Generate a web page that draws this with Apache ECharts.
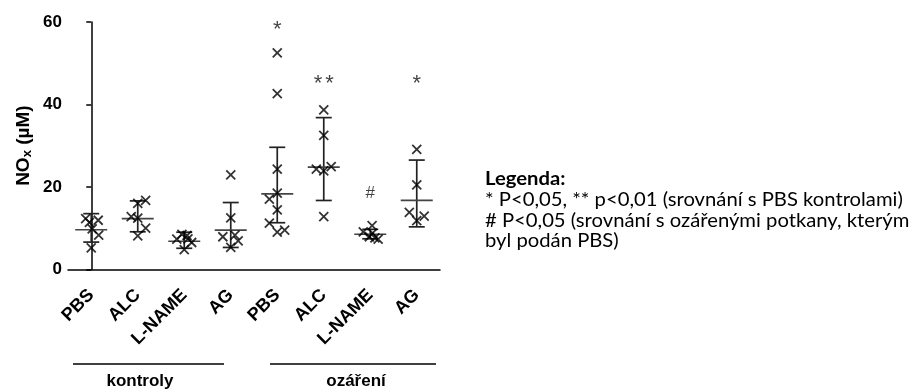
<!DOCTYPE html>
<html><head><meta charset="utf-8">
<script src="https://cdn.jsdelivr.net/npm/echarts@6/dist/echarts.min.js"></script>
<style>html,body{margin:0;padding:0;background:#fff}#c{width:912px;height:389px}</style>
</head><body><div id="c"></div>
<script>
// ---- data ----
const categories = ['PBS', 'ALC', 'L-NAME', 'AG', 'PBS', 'ALC', 'L-NAME', 'AG'];
const yTicks = [0, 20, 40, 60];
// individual measurements (µM) per group
const kontrolyPBS   = [12.3, 11.9, 11.4, 9.8, 8.3, 5.2];
const kontrolyALC   = [16.0, 16.7, 12.8, 12.4, 10.0, 8.1];
const kontrolyLNAME = [7.3, 8.5, 8.2, 7.4, 6.5, 4.8];
const kontrolyAG    = [22.9, 12.5, 7.9, 8.3, 6.9, 5.3];
const ozarPBS       = [52.5, 42.6, 24.3, 18.5, 17.0, 14.4, 11.2, 9.0, 9.5];
const ozarALC       = [38.7, 32.5, 24.3, 23.9, 24.9, 12.8];
const ozarLNAME     = [10.6, 9.1, 8.8, 7.9, 7.6, 7.3];
const ozarAG        = [29.1, 20.5, 13.8, 12.9, 11.8];
// horizontal spread of the points within a group (category units)
const spreadPBS1   = [-0.12, 0.15, -0.04, 0.02, 0.16, 0];
const spreadALC1   = [0, 0.17, -0.14, 0, 0.17, 0];
const spreadLNAME1 = [-0.16, -0.05, 0.06, 0.08, 0.16, 0];
const spreadAG1    = [0, 0, -0.17, 0.09, 0.16, 0];
const spreadPBS2   = [0, 0, 0, 0, -0.17, 0, -0.17, 0, 0.16];
const spreadALC2   = [0, 0, -0.16, 0, 0.16, 0];
const spreadLNAME2 = [0.04, -0.15, 0.05, -0.02, 0.1, 0.17];
const spreadAG2    = [0, 0, -0.16, 0.16, 0];
// central line and whiskers
const centerVal = [9.6, 12.3, 6.8, 9.5, 18.3, 24.8, 8.5, 16.7];
const lowVal    = [6.6, 9.1, 5.1, 5.3, 11.3, 16.7, 7.4, 10.3];
const highVal   = [13.5, 16.6, 9.0, 16.2, 29.6, 36.8, 9.7, 26.5];
// significance marks
const markText = ['', '', '', '', '*', '**', '#', '*'];
const markY    = [null, null, null, null, 58.0, 45.0, 18.5, 45.0];
const groupNames = ['kontroly', 'ozáření'];
const legendTitle = 'Legenda:';
const legendLines = [
  '* P<0,05, ** p<0,01 (srovnání s PBS kontrolami)',
  '# P<0,05 (srovnání s ozářenými potkany, kterým',
  'byl podán PBS)'
];

// ---- build ----
const allValues = [kontrolyPBS, kontrolyALC, kontrolyLNAME, kontrolyAG, ozarPBS, ozarALC, ozarLNAME, ozarAG];
const allSpread = [spreadPBS1, spreadALC1, spreadLNAME1, spreadAG1, spreadPBS2, spreadALC2, spreadLNAME2, spreadAG2];
const pointData = [];
allValues.forEach((arr, g) => arr.forEach((v, k) => pointData.push([g + allSpread[g][k], v])));
const barData = categories.map((c, i) => [i, centerVal[i], lowVal[i], highVal[i]]);
const markData = [];
markText.forEach((t, i) => { if (t) markData.push({ value: [i, markY[i]], name: t }); });

const chart = echarts.init(document.getElementById('c'), null, { renderer: 'canvas' });
const black = '#000';
const boldFont = 'Liberation Sans, Arial, sans-serif';
const legendFont = 'Lato, sans-serif';

function markFormatter(p) {
  if (p.name === '#') return '{h|#}';
  return p.name.split('').map(s => '{s|' + s + '}').join('{g| }');
}

function legendText(txt, y, bold) {
  return { type: 'text', x: 485, y: y, scaleX: 1.065,
    style: { text: txt, verticalAlign: 'middle', font: (bold ? 'bold ' : '') + '19px ' + legendFont, fill: black } };
}

chart.setOption({
  animation: false,
  grid: { left: 68, top: 22, width: 372, height: 247.3, containLabel: false },
  xAxis: [{
    type: 'category', data: categories,
    axisLine: { lineStyle: { color: black, width: 1.5 } },
    axisTick: { alignWithLabel: true, length: 6, lineStyle: { color: black, width: 1.5 } },
    axisLabel: { rotate: 45, interval: 0, color: black, fontWeight: 'bold', fontSize: 18, fontFamily: boldFont, margin: 23 }
  }, {
    type: 'value', min: -0.5, max: 7.5, show: false
  }],
  yAxis: {
    type: 'value', min: yTicks[0], max: yTicks[yTicks.length - 1], interval: yTicks[1] - yTicks[0],
    splitLine: { show: false },
    axisLine: { show: true, lineStyle: { color: black, width: 1.5 } },
    axisTick: { show: true, length: 5, lineStyle: { color: black, width: 1.5 } },
    axisLabel: { color: black, fontWeight: 'bold', fontSize: 17, fontFamily: boldFont, margin: 6 },
    name: '{a|NO}{s|x}{a| (µM)}',
    nameLocation: 'middle', nameGap: 34, nameRotate: 90,
    nameTextStyle: {
      rich: {
        a: { fontWeight: 'bold', fontSize: 19, fontFamily: boldFont, color: black },
        s: { fontWeight: 'bold', fontSize: 13, fontFamily: boldFont, color: black, verticalAlign: 'bottom', padding: [7, 0, 0, 0] }
      }
    }
  },
  series: [{
    type: 'custom', xAxisIndex: 0, data: barData, z: 2,
    encode: { x: 0, y: [1, 2, 3] },
    renderItem: function (params, api) {
      const i = api.value(0);
      const c = api.coord([i, api.value(1)]);
      const l = api.coord([i, api.value(2)]);
      const h = api.coord([i, api.value(3)]);
      const st = { stroke: '#222', lineWidth: 1.7 };
      return { type: 'group', children: [
        { type: 'line', shape: { x1: c[0], y1: h[1], x2: c[0], y2: l[1] }, style: st },
        { type: 'line', shape: { x1: c[0] - 8, y1: h[1], x2: c[0] + 8, y2: h[1] }, style: st },
        { type: 'line', shape: { x1: c[0] - 8, y1: l[1], x2: c[0] + 8, y2: l[1] }, style: st },
        { type: 'line', shape: { x1: c[0] - 16, y1: c[1], x2: c[0] + 16, y2: c[1] }, style: { stroke: '#444', lineWidth: 1.7 } }
      ] };
    }
  }, {
    type: 'scatter', xAxisIndex: 1, data: pointData, z: 3,
    symbol: 'path://M0,0L10,10M10,0L0,10', symbolSize: 9,
    itemStyle: { color: 'none', borderColor: black, borderWidth: 1.8 }
  }, {
    type: 'scatter', xAxisIndex: 0, data: markData, symbolSize: 0, z: 4,
    label: {
      show: true, position: 'inside', formatter: markFormatter,
      rich: {
        s: { fontSize: 22, fontFamily: boldFont, color: '#111' },
        g: { fontSize: 10, fontFamily: boldFont, color: '#111' },
        h: { fontSize: 17, fontFamily: boldFont, color: '#111' }
      }
    }
  }],
  graphic: [
    { type: 'line', shape: { x1: 73, y1: 364, x2: 224, y2: 364 }, style: { stroke: black, lineWidth: 1.5 } },
    { type: 'line', shape: { x1: 270, y1: 364, x2: 436, y2: 364 }, style: { stroke: black, lineWidth: 1.5 } },
    { type: 'text', x: 140, y: 381, style: { text: groupNames[0], align: 'center', verticalAlign: 'middle', font: 'bold 17px ' + boldFont, fill: black } },
    { type: 'text', x: 356, y: 381, style: { text: groupNames[1], align: 'center', verticalAlign: 'middle', font: 'bold 17px ' + boldFont, fill: black } },
    legendText(legendTitle, 179, true),
    legendText(legendLines[0], 199.5, false),
    legendText(legendLines[1], 220.5, false),
    legendText(legendLines[2], 241, false)
  ]
});
</script>
</body></html>
